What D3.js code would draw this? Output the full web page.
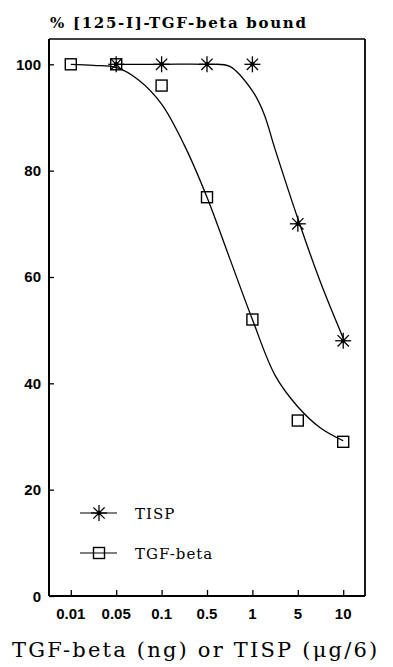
<!DOCTYPE html>
<html>
<head>
<meta charset="utf-8">
<script src="https://cdn.jsdelivr.net/npm/d3@7"></script>
<style>
  body { margin: 0; background: #fff; }
  svg { display: block; }
</style>
</head>
<body>
<svg width="393" height="667"></svg>
<script>
// dose labels (evenly spaced on the x axis)
var doses = ["0.01", "0.05", "0.1", "0.5", "1", "5", "10"];
var yTicks = [0, 20, 40, 60, 80, 100];

// measured points, % bound (index into doses)
var tgfPoints = [100, 100, 96, 75, 52, 33, 29];
var tispPoints = [null, 100, 100, 100, 100, 70, 48];

// fitted curves: [dose index, % bound]
var tgfCurve = [[0, 100], [0.5, 99.8], [1, 99.4], [1.5, 97], [2, 92.5], [2.5, 84.8], [3, 75],
                [3.5, 63.5], [4, 52], [4.5, 41.5], [5, 35.6], [5.5, 31.6], [6, 29.2]];
var tispCurve = [[1, 100], [2, 100], [3, 100], [3.5, 99.6], [4, 95], [4.25, 90.8], [4.5, 84],
                 [5, 71], [5.5, 59], [6, 48.5]];

var svg = d3.select('svg');
var mLeft = 49, mRight = 365, mTop = 39, mBottom = 596;

var x = d3.scalePoint().domain(doses).range([mLeft, mRight]).padding(0.48);
var xi = d3.scaleLinear().domain([0, doses.length - 1]).range([x(doses[0]), x(doses[doses.length - 1])]);
var y = d3.scaleLinear().domain([0, 100]).range([mBottom, 64.3]);

// frame
svg.append("line").attr("x1", mLeft).attr("x2", mRight).attr("y1", mTop).attr("y2", mTop)
    .attr("stroke", "#000").attr("stroke-width", 1.3);
svg.append("line").attr("x1", mRight).attr("x2", mRight).attr("y1", mTop).attr("y2", mBottom)
    .attr("stroke", "#000").attr("stroke-width", 1.8);

// axes, inward ticks
var xAxis = svg.append("g").attr("transform", "translate(0," + mBottom + ")")
    .call(d3.axisTop(x).tickSize(6).tickFormat(""));
xAxis.select(".domain").attr("d", "M" + mLeft + ",0H" + mRight).attr("stroke-width", 1.8);
xAxis.selectAll(".tick line").attr("stroke-width", 1.3);

var yAxis = svg.append("g").attr("transform", "translate(" + mLeft + ",0)")
    .call(d3.axisRight(y).tickValues(yTicks).tickSize(5).tickFormat(""));
yAxis.select(".domain").attr("d", "M0," + mTop + "V" + mBottom).attr("stroke-width", 2);
yAxis.selectAll(".tick line").attr("stroke-width", 1.3);

// tick labels
svg.selectAll(".xl").data(doses).enter().append("text")
    .attr("x", function(d) { return x(d); })
    .attr("y", 619)
    .attr("text-anchor", "middle")
    .attr("font-family", "'Liberation Sans', Arial, sans-serif")
    .attr("font-weight", "bold")
    .attr("font-size", "15px")
    .text(function(d) { return d; });

svg.selectAll(".yl").data(yTicks).enter().append("text")
    .attr("x", 41)
    .attr("y", function(d) { return y(d) + 5.5; })
    .attr("text-anchor", "end")
    .attr("font-family", "'Liberation Sans', Arial, sans-serif")
    .attr("font-weight", "bold")
    .attr("font-size", "15px")
    .text(function(d) { return d; });

// titles
svg.append("text").attr("x", 50).attr("y", 28)
    .attr("font-family", "'DejaVu Serif', serif").attr("font-weight", "bold").attr("font-size", "15px")
    .attr("letter-spacing", "1.7px")
    .text("% [125-I]-TGF-beta bound");

svg.append("text").attr("x", 12).attr("y", 657)
    .attr("font-family", "'DejaVu Serif', serif").attr("font-size", "21px")
    .attr("letter-spacing", "2.2px")
    .text("TGF-beta (ng) or TISP (μg/6)");

// curves
var line = d3.line()
    .x(function(d) { return xi(d[0]); })
    .y(function(d) { return y(d[1]); })
    .curve(d3.curveCatmullRom.alpha(0.5));

svg.append("path").datum(tgfCurve).attr("d", line)
    .attr("fill", "none").attr("stroke", "#000").attr("stroke-width", 1.3);
svg.append("path").datum(tispCurve).attr("d", line)
    .attr("fill", "none").attr("stroke", "#000").attr("stroke-width", 1.3);

// markers
function drawSquare(g, cx, cy) {
    g.append("rect").attr("x", cx - 5.5).attr("y", cy - 5.5).attr("width", 11).attr("height", 11)
        .attr("fill", "none").attr("stroke", "#000").attr("stroke-width", 1.4);
}
function drawStar(g, cx, cy) {
    [0, 45, 90, 135].forEach(function(a) {
        var r = a * Math.PI / 180, dx = Math.cos(r) * 8, dy = Math.sin(r) * 8;
        g.append("line").attr("x1", cx - dx).attr("y1", cy - dy).attr("x2", cx + dx).attr("y2", cy + dy)
            .attr("stroke", "#000").attr("stroke-width", 1.3);
    });
    g.append("circle").attr("cx", cx).attr("cy", cy).attr("r", 2.3).attr("fill", "#000");
}

var marks = svg.append("g");
tgfPoints.forEach(function(v, i) { if (v != null) drawSquare(marks, xi(i), y(v)); });
tispPoints.forEach(function(v, i) { if (v != null) drawStar(marks, xi(i), y(v)); });

// legend
var legend = svg.append("g");
legend.append("line").attr("x1", 80).attr("x2", 117).attr("y1", 513).attr("y2", 513)
    .attr("stroke", "#000").attr("stroke-width", 1.2);
drawStar(legend, 99, 513);
legend.append("text").attr("x", 135).attr("y", 519)
    .attr("font-family", "'DejaVu Serif', serif").attr("font-size", "15px")
    .attr("letter-spacing", "1px").text("TISP");

legend.append("line").attr("x1", 80).attr("x2", 117).attr("y1", 553).attr("y2", 553)
    .attr("stroke", "#000").attr("stroke-width", 1.2);
drawSquare(legend, 99, 553);
legend.append("text").attr("x", 135).attr("y", 559)
    .attr("font-family", "'DejaVu Serif', serif").attr("font-size", "15px")
    .attr("letter-spacing", "1px").text("TGF-beta");
</script>
</body>
</html>
